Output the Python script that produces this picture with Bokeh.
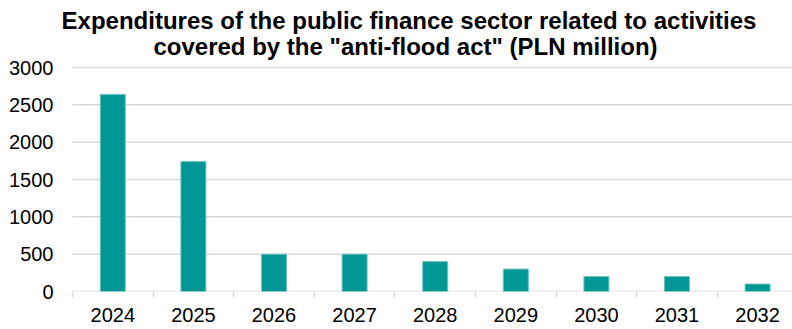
from bokeh.plotting import figure
from bokeh.models import Range1d, FixedTicker, Label
from bokeh.embed import file_html
from bokeh.resources import INLINE

# ---- data ----
years = ["2024", "2025", "2026", "2027", "2028", "2029", "2030", "2031", "2032"]
values = [2640, 1740, 500, 500, 400, 300, 200, 200, 100]
y_ticks = [0, 500, 1000, 1500, 2000, 2500, 3000]
title_lines = ["Expenditures of the public finance sector related to activities",
               'covered by the "anti-flood act" (PLN million)']

# ---- layout / style ----
FONT = "Liberation Sans"
GRID = "#d9d9d9"
BAR = "#009794"
W, H = 792, 329
FRAME_LEFT = 56          # px where the frame starts
AXIS_LEFT = 72           # px where the category axis starts
BOTTOM = 38              # px below the frame
Y_TOP_PX = 67            # px where the top tick (3000) sits
CAT_PX = 80.6            # px per category
FRAME_H = H - BOTTOM
n = len(years)

x_start = -0.5 - (AXIS_LEFT - FRAME_LEFT) / CAT_PX
x_end = -0.5 + (W - AXIS_LEFT) / CAT_PX
y_end = y_ticks[-1] * FRAME_H / (FRAME_H - Y_TOP_PX)

xs = list(range(n))

p = figure(width=W, height=H, output_backend="svg", toolbar_location=None,
           x_range=Range1d(x_start, x_end), y_range=Range1d(0, y_end),
           min_border_left=FRAME_LEFT, min_border_right=0, min_border_top=0,
           min_border_bottom=BOTTOM)

# horizontal grid lines, starting at the category axis
p.segment(x0=[-0.5] * len(y_ticks), x1=[x_end] * len(y_ticks), y0=y_ticks, y1=y_ticks,
          line_color=GRID, line_width=1.5)

p.vbar(x=xs, top=values, width=0.31, fill_color=BAR, line_color="#6cc4c1",
       line_width=1)

# title (two centred lines)
centres = [408.5, 405]
baselines = [19.5, 46]
for txt, cx, by in zip(title_lines, centres, baselines):
    p.add_layout(Label(x=cx - FRAME_LEFT, y=FRAME_H - by, x_units="screen", y_units="screen",
                       text=txt, text_align="center", text_baseline="alphabetic",
                       text_font=FONT, text_font_size="24px", text_font_style="bold",
                       text_color="#000000"))

p.outline_line_color = None
p.background_fill_color = "white"
p.border_fill_color = "white"
p.xgrid.grid_line_color = None
p.ygrid.grid_line_color = None

yax = p.yaxis[0]
yax.ticker = FixedTicker(ticks=y_ticks)
yax.axis_line_color = None
yax.major_tick_line_color = None
yax.minor_tick_line_color = None
yax.major_tick_out = 0
yax.major_tick_in = 0
yax.major_label_standoff = 3
yax.major_label_text_font = FONT
yax.major_label_text_font_size = "20px"
yax.major_label_text_color = "#000000"

xax = p.xaxis[0]
xax.ticker = FixedTicker(ticks=xs, minor_ticks=[i - 0.5 for i in range(n + 1)])
xax.major_label_overrides = {i: y for i, y in enumerate(years)}
xax.axis_line_color = None
xax.major_tick_line_color = None
xax.major_tick_out = 0
xax.major_tick_in = 0
xax.minor_tick_line_color = GRID
xax.minor_tick_line_width = 1.5
xax.minor_tick_out = 6
xax.minor_tick_in = 0
xax.major_label_standoff = 10
xax.major_label_text_font = FONT
xax.major_label_text_font_size = "20px"
xax.major_label_text_color = "#000000"

open("out.html", "w").write(file_html(p, INLINE))
